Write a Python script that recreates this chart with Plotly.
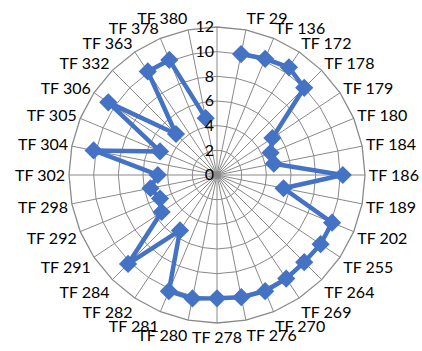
import plotly.graph_objects as go

categories = [" ", "TF 29", "TF 136", "TF 172", "TF 178", "TF 179", "TF 180", "TF 184",
              "TF 186", "TF 189", "TF 202", "TF 255", "TF 264", "TF 269", "TF 270", "TF 276",
              "TF 278", "TF 280", "TF 281", "TF 282", "TF 284", "TF 291", "TF 292", "TF 298",
              "TF 302", "TF 304", "TF 305", "TF 306", "TF 332", "TF 363", "TF 378", "TF 380"]
values = [None, 10.0, 10.2, 10.5, 10.0, 5.4, 4.7, 4.7,
          10.2, 5.5, 10.1, 10.1, 10.0, 10.1, 10.2, 10.1,
          10.0, 10.2, 10.2, 5.4, 10.2, 5.4, 5.0, 5.5,
          4.8, 10.2, 5.0, 10.6, 4.7, 10.1, 10.1, 4.7]
radial_ticks = [0, 2, 4, 6, 8, 10, 12]

W, H = 422, 351
cx, cy, R = 217, 175, 148
cy_b = H - cy

fig = go.Figure()
fig.add_trace(go.Scatterpolar(
    r=values, theta=categories, mode="lines+markers",
    connectgaps=False,
    line=dict(color="#4472C4", width=4.5),
    marker=dict(symbol="diamond", size=14, color="#4472C4"),
    showlegend=False,
    hoverinfo="skip",
))

grid = "#898989"
font = dict(family="Lato, 'Open Sans', sans-serif", size=16, color="#000000")
fig.update_layout(
    width=W, height=H,
    margin=dict(l=0, r=0, t=0, b=0),
    paper_bgcolor="white", plot_bgcolor="white",
    font=font,
    polar=dict(
        domain=dict(x=[(cx - R) / W, (cx + R) / W], y=[(cy_b - R) / H, (cy_b + R) / H]),
        bgcolor="white",
        gridshape="linear",
        angularaxis=dict(
            type="category", categoryarray=categories,
            direction="clockwise", rotation=90,
            showline=True, linecolor=grid, linewidth=1.3,
            gridcolor=grid, gridwidth=1.3,
            ticks="", tickfont=font,
        ),
        radialaxis=dict(
            range=[0, 12], tickvals=radial_ticks, ticktext=[str(t) for t in radial_ticks],
            angle=90, side="counterclockwise", tickangle=90,
            showline=False, ticks="",
            gridcolor=grid, gridwidth=1.3,
            tickfont=font,
        ),
    ),
)
fig.write_html("out.html", config={"displayModeBar": False},
               post_script="document.body.style.margin='0';document.body.style.overflow='hidden';")
